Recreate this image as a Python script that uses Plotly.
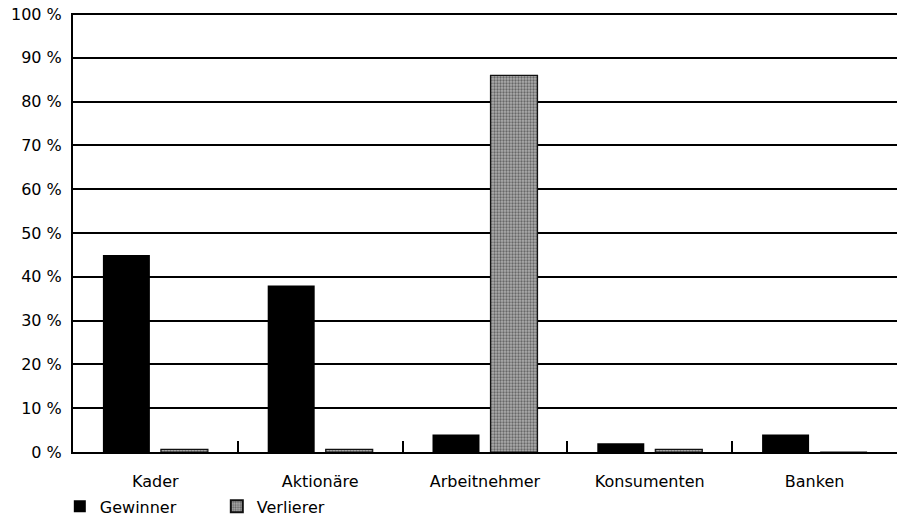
import plotly.graph_objects as go

categories = ["Kader", "Aktionäre", "Arbeitnehmer", "Konsumenten", "Banken"]
gewinner = [45, 38, 4, 2, 4]
verlierer = [0.6, 0.6, 86, 0.6, 0]
y_ticks = [0, 10, 20, 30, 40, 50, 60, 70, 80, 90, 100]

FONT = "DejaVu Sans"
TXT = "#000000"

fig = go.Figure()
fig.add_trace(go.Bar(
    name="Gewinner", x=categories, y=gewinner,
    marker=dict(color="#000000", line=dict(width=0)),
))
fig.add_trace(go.Bar(
    name="Verlierer", x=categories, y=verlierer,
    marker=dict(color="#a0a0a0", line=dict(color="#111111", width=1.2),
                pattern=dict(shape=".", fgcolor="#222222", bgcolor="#acacac",
                             size=3, solidity=0.45)),
))

fig.update_layout(
    width=905, height=516,
    margin=dict(l=73, r=8, t=13, b=64, autoexpand=False),
    paper_bgcolor="white", plot_bgcolor="white",
    barmode="group", bargap=0.296, bargroupgap=0.19,
    font=dict(family=FONT, size=16, color=TXT),
    showlegend=True,
    legend=dict(orientation="h", x=-0.016, xanchor="left", y=-0.124, yanchor="middle",
                font=dict(family=FONT, size=16, color=TXT),
                entrywidth=112, entrywidthmode="pixels", itemsizing="constant",
                bgcolor="rgba(0,0,0,0)"),
    xaxis=dict(
        automargin=False,
        showline=True, linecolor="black", linewidth=2,
        ticks="inside", tickson="boundaries", ticklen=11, tickcolor="black", tickwidth=2,
        ticklabelstandoff=14, showgrid=False,
        tickfont=dict(family=FONT, size=16, color=TXT),
    ),
    yaxis=dict(
        automargin=False,
        range=[0, 100.25], tickvals=y_ticks, ticktext=[f"{v} %" for v in y_ticks],
        showgrid=True, gridcolor="black", gridwidth=1.6,
        showline=True, linecolor="black", linewidth=2,
        ticks="", ticklabelstandoff=6, zeroline=False,
        tickfont=dict(family=FONT, size=16, color=TXT),
    ),
)

fig.write_html("out.html", config={"displayModeBar": False},
               post_script="document.body.style.margin='0';")
